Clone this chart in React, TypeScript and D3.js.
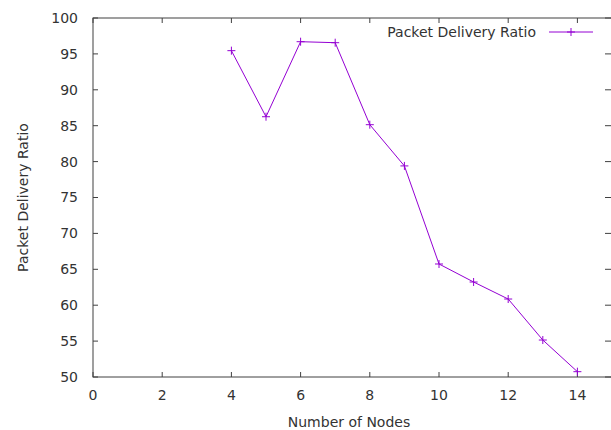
import React from "react";
import * as d3 from "d3";

const nodes = [4, 5, 6, 7, 8, 9, 10, 11, 12, 13, 14];
const pdr = [95.45, 86.25, 96.7, 96.56, 85.14, 79.4, 65.74, 63.23, 60.86, 55.15, 50.74];
const xTicks = [0, 2, 4, 6, 8, 10, 12, 14];
const yTicks = [50, 55, 60, 65, 70, 75, 80, 85, 90, 95, 100];
const seriesName = "Packet Delivery Ratio";
const xTitle = "Number of Nodes";
const yTitle = "Packet Delivery Ratio";

const W = 611, H = 430;
const left = 93, top = 18, right = 612, bottom = 377;
const color = "#9400d3";
const axisColor = "#404040";
const textColor = "#333333";
const font = "'DejaVu Sans', sans-serif";
const fs = 14;

export default function App() {
  const x = d3.scaleLinear().domain([0, 15]).range([left, right]);
  const y = d3.scaleLinear().domain([50, 100]).range([bottom, top]);
  const data = nodes.map((n, i) => ({ n, v: pdr[i] }));
  const line = d3.line<{ n: number; v: number }>().x(d => x(d.n)).y(d => y(d.v));
  const tl = 5;
  const plus = (cx: number, cy: number, k: string | number) => (
    <path key={k} d={`M${cx - 4},${cy}H${cx + 4}M${cx},${cy - 4}V${cy + 4}`} stroke={color} strokeWidth={1} fill="none" />
  );
  return (
    <svg width={W} height={H} style={{ position: "absolute", left: 0, top: 0, background: "#fff" }} fontFamily={font}>
      <rect x={0} y={0} width={W} height={H} fill="#fff" />
      {yTicks.map(t => (
        <g key={"y" + t}>
          <line x1={left} x2={left + tl} y1={y(t)} y2={y(t)} stroke={axisColor} />
          <line x1={right - tl - 2} x2={right} y1={y(t)} y2={y(t)} stroke={axisColor} />
          <text x={left - 15} y={y(t)} dy="0.35em" textAnchor="end" fontSize={fs} fill={textColor}>{t}</text>
        </g>
      ))}
      {xTicks.map(t => (
        <g key={"x" + t}>
          <line x1={x(t)} x2={x(t)} y1={bottom} y2={bottom - tl} stroke={axisColor} />
          <line x1={x(t)} x2={x(t)} y1={top} y2={top + tl} stroke={axisColor} />
          <text x={x(t)} y={bottom + 18} dy="0.35em" textAnchor="middle" fontSize={fs} fill={textColor}>{t}</text>
        </g>
      ))}
      <rect x={left} y={top} width={right - left} height={bottom - top} fill="none" stroke={axisColor} strokeWidth={1} />
      <text x={349} y={427} textAnchor="middle" fontSize={fs} fill={textColor}>{xTitle}</text>
      <text transform={`translate(28,197.5) rotate(-90)`} textAnchor="middle" fontSize={fs} fill={textColor}>{yTitle}</text>
      <path d={line(data) || ""} fill="none" stroke={color} strokeWidth={1} />
      {data.map((d, i) => plus(x(d.n), y(d.v), i))}
      <text x={536} y={32} dy="0.35em" textAnchor="end" fontSize={fs} fill={textColor}>{seriesName}</text>
      <line x1={549} x2={593} y1={32} y2={32} stroke={color} />
      {plus(571, 32, "leg")}
    </svg>
  );
}
